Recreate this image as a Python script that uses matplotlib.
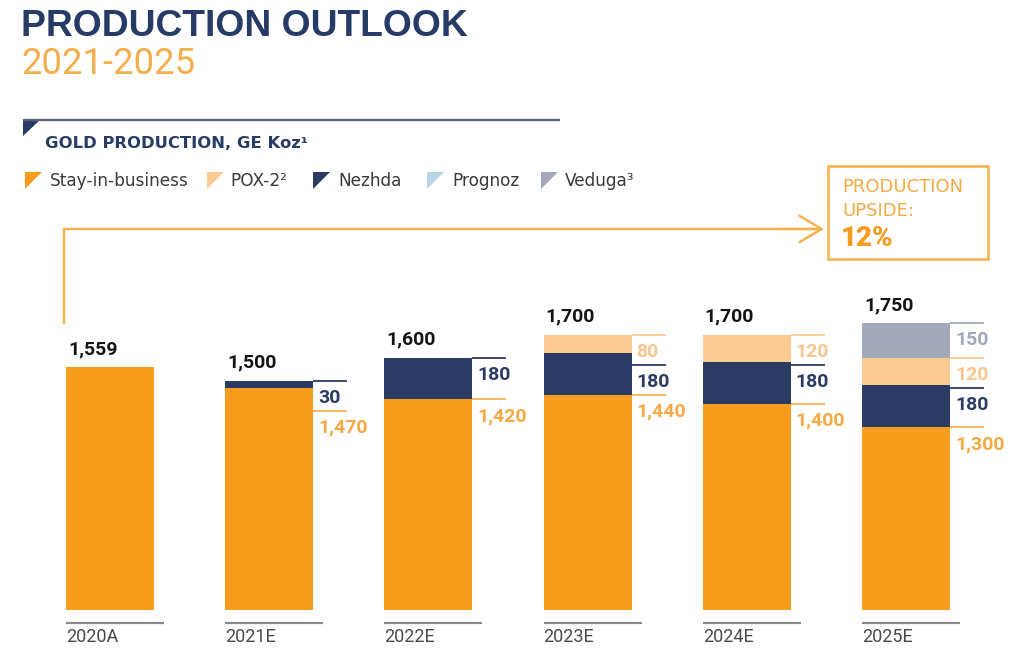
import matplotlib
matplotlib.use("Agg")
import matplotlib.pyplot as plt
import numpy as np
from matplotlib.patches import Polygon, Rectangle
from matplotlib.transforms import blended_transform_factory

# ---------------- data ----------------
years = ["2020A", "2021E", "2022E", "2023E", "2024E", "2025E"]
series_names = ["Stay-in-business", "POX-2²", "Nezhda", "Prognoz", "Veduga³"]
stay = [1559, 1470, 1420, 1440, 1400, 1300]
nezhda = [0, 30, 180, 180, 180, 180]
pox2 = [0, 0, 0, 80, 120, 120]
prognoz = [0, 0, 0, 0, 0, 0]
veduga = [0, 0, 0, 0, 0, 150]
totals = [1559, 1500, 1600, 1700, 1700, 1750]
upside_pct = "12%"

# ---------------- style ----------------
C_STAY = "#F99D1E"
C_POX = "#FCCB93"
C_NEZ = "#2B3B63"
C_PRO = "#B9D5E6"
C_VED = "#A3A8BA"
LBL = {"stay": "#F5AA45", "pox": "#F9C690", "nez": "#2B3B63", "ved": "#A3A8BA"}
NAVY = "#263B66"
ORANGE_T = "#F4AE4C"
FONT = "Roboto"
plt.rcParams["font.family"] = [FONT, "DejaVu Sans"]
WIDE = ["DejaVu Sans"]
TITLEF = ["Liberation Sans", "DejaVu Sans"]

W, H = 1024, 659
fig = plt.figure(figsize=(W / 100, H / 100), dpi=100)
fig.patch.set_facecolor("white")

# overlay in pixel coordinates (origin top-left)
ov = fig.add_axes([0, 0, 1, 1])
ov.set_xlim(0, W)
ov.set_ylim(H, 0)
ov.axis("off")

# main data axes: bottom edge at pixel 610; value axis is truncated
BASE_PX = 610
Y0, Y1 = 508, 3148
ax = fig.add_axes([0, (H - BASE_PX) / H, 1, BASE_PX / H])
PXU = 159.2  # pixels per category
ax.set_xlim(-110 / PXU, (W - 110) / PXU)
ax.set_ylim(Y0, Y1)
ax.axis("off")
YPX = BASE_PX / (Y1 - Y0)  # pixels per unit
PT = 0.72  # points per pixel

x = np.arange(len(years))
bw = 88 / PXU

stacks = [(stay, C_STAY, "stay"), (nezhda, C_NEZ, "nez"), (pox2, C_POX, "pox"),
          (prognoz, C_PRO, "pro"), (veduga, C_VED, "ved")]
bottom = np.zeros(len(years))
seg_info = [[] for _ in years]
for vals, col, key in stacks:
    v = np.array(vals, dtype=float)
    ax.bar(x, v, bw, bottom=bottom, color=col, linewidth=0)
    for i in range(len(years)):
        if v[i] > 0:
            seg_info[i].append((bottom[i] + v[i], int(v[i]), key))
    bottom = bottom + v

line_col = {"stay": "#F7B356", "nez": C_NEZ, "pox": C_POX, "ved": C_VED}
# segment labels to the right of stacked bars
for i in range(1, len(years)):
    segs = sorted(seg_info[i], key=lambda s: -s[0])
    prev = None
    for top, val, key in segs:
        y = top
        if prev is not None and (prev - y) * YPX < 30:
            y = prev - 30 / YPX
        prev = y
        xr = x[i] + bw / 2
        ax.hlines(y, xr, xr + 34 / PXU, color=line_col[key], lw=1.3)
        ax.annotate(f"{val:,}", xy=(xr, y), xytext=(5 * PT, -17 * PT),
                    textcoords="offset points", ha="left", va="center",
                    fontsize=14, fontweight="bold", color=LBL[key])

# totals above bars
for i in range(len(years)):
    ax.annotate(f"{totals[i]:,}", xy=(x[i] - bw / 2, totals[i]),
                xytext=(2 * PT, 18 * PT), textcoords="offset points",
                ha="left", va="center", fontsize=14, fontweight="bold",
                color="#141414")

# category baseline segments and labels
bt = blended_transform_factory(ax.transData, ov.transData)
for i, yr in enumerate(years):
    xl = x[i] - bw / 2
    ov.plot([xl, xl + 98 / PXU], [623, 623], color="#8a8a8a", lw=1.6,
            transform=bt, solid_capstyle="butt")
    ov.text(xl, 637, yr, transform=bt, ha="left", va="center",
            fontsize=13, color="#4a4a4a")

# ---------------- titles ----------------
ov.text(21, 26, "PRODUCTION OUTLOOK", fontsize=26.8, fontweight="bold",
        color=NAVY, va="center", ha="left", family=TITLEF)
ov.text(21, 64, "2021-2025", fontsize=26.3, fontweight="normal",
        color=ORANGE_T, va="center", ha="left")

ov.plot([23, 560], [119.5, 119.5], color="#5a6378", lw=1.6,
        solid_capstyle="butt")
ov.add_patch(Polygon([[23, 119], [41, 119], [23, 136]], closed=True,
                     facecolor=NAVY, edgecolor="none"))
ov.text(45, 143, "GOLD PRODUCTION, GE Koz¹", fontsize=11.8,
        fontweight="bold", color=NAVY, va="center", ha="left", family=WIDE)

# legend
leg_cols = [C_STAY, C_POX, C_NEZ, C_PRO, C_VED]
mark_x = [25, 207, 313, 427, 541]
text_x = [50, 230, 338, 452, 565]
for name, col, mx, tx in zip(series_names, leg_cols, mark_x, text_x):
    ov.add_patch(Polygon([[mx, 172], [mx + 17, 172], [mx, 189]], closed=True,
                         facecolor=col, edgecolor="none"))
    ov.text(tx, 181, name, fontsize=12.2, color="#3a3a3a", va="center",
            ha="left", family=WIDE)

# production upside box + arrow
ov.add_patch(Rectangle((828, 166), 160, 93, facecolor="none",
                       edgecolor="#F5B04A", lw=1.8))
ov.text(842, 186.5, "PRODUCTION", fontsize=13, color="#F5AA45",
        va="center", ha="left", family=WIDE)
ov.text(842, 211, "UPSIDE:", fontsize=13, color="#F5AA45",
        va="center", ha="left", family=WIDE)
ov.text(841, 238.5, upside_pct, fontsize=20, color="#F39C1F",
        fontweight="heavy", va="center", ha="left")

ov.plot([64, 64, 820], [323, 229, 229], color="#F5B04A", lw=1.7,
        solid_joinstyle="miter")
ov.annotate("", xy=(824, 229), xytext=(780, 229),
            arrowprops=dict(arrowstyle="->,head_length=1.6,head_width=0.95",
                            color="#F5B04A", lw=1.7, shrinkA=0, shrinkB=0))

fig.savefig("out.png", dpi=100, facecolor="white")
